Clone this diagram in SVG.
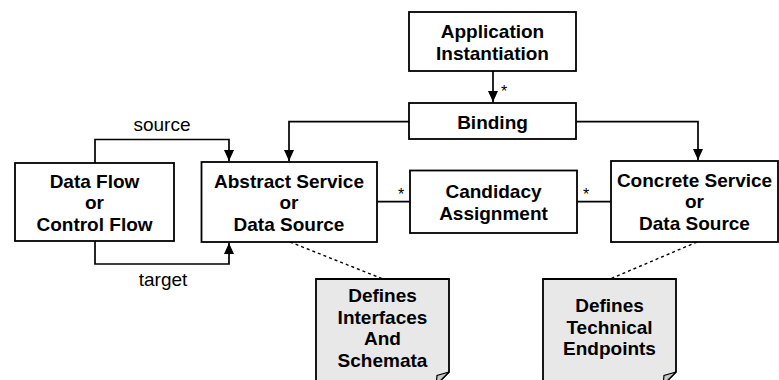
<svg xmlns="http://www.w3.org/2000/svg" width="779" height="380" viewBox="0 0 779 380">
<style>
.box{fill:#fff;stroke:#000;stroke-width:1.8}
.note{fill:#e8e8e8;stroke:#000;stroke-width:1.8}
.fold{fill:#c8c8c8;stroke:#000;stroke-width:1.2}
.t{font-family:"Liberation Sans",Arial,sans-serif;font-size:19px;font-weight:bold;text-anchor:middle;fill:#000}
.l{font-family:"Liberation Sans",Arial,sans-serif;font-size:19px;text-anchor:middle;fill:#000}
.s{font-family:"Liberation Sans",Arial,sans-serif;font-size:16px;text-anchor:middle;fill:#000}
.c{fill:none;stroke:#000;stroke-width:1.7}
.d{fill:none;stroke:#000;stroke-width:1.4;stroke-dasharray:3,3}
</style>
<defs>
<marker id="ah" markerUnits="userSpaceOnUse" markerWidth="12" markerHeight="10" refX="11" refY="5" orient="auto">
<path d="M0,0 L11,5 L0,10 Z" fill="#000"/>
</marker>
</defs>
<g id="connectors">
<path class="c" d="M493,71 V102" marker-end="url(#ah)"/>
<path class="c" d="M409,121.7 H289 V161" marker-end="url(#ah)"/>
<path class="c" d="M576,121.7 H698 V160" marker-end="url(#ah)"/>
<path class="c" d="M95,163 V139.5 H229 V161" marker-end="url(#ah)"/>
<path class="c" d="M95,241 V264 H229 V243" marker-end="url(#ah)"/>
<path class="c" d="M377,201.7 H410"/>
<path class="c" d="M577,201.7 H611"/>
<path class="d" d="M290,242 L383,279"/>
<path class="d" d="M697,242 L610,279"/>
<text class="s" x="504" y="97">*</text>
<text class="s" x="401" y="200">*</text>
<text class="s" x="586" y="200">*</text>
<text class="l" x="162" y="131">source</text>
<text class="l" x="163" y="286">target</text>
</g>
<g id="app">
<rect class="box" x="409" y="12" width="167" height="59"/>
<text class="t" x="492.5" y="38">Application</text>
<text class="t" x="492.5" y="59.5">Instantiation</text>
</g>
<g id="binding">
<rect class="box" x="409" y="103" width="167" height="36"/>
<text class="t" x="492.5" y="128.5">Binding</text>
</g>
<g id="dataflow">
<rect class="box" x="15" y="163" width="159" height="78"/>
<text class="t" x="94.5" y="187.5">Data Flow</text>
<text class="t" x="94.5" y="209">or</text>
<text class="t" x="94.5" y="230.5">Control Flow</text>
</g>
<g id="abstract">
<rect class="box" x="201.5" y="162" width="175.5" height="80"/>
<text class="t" x="289" y="187.5">Abstract Service</text>
<text class="t" x="289" y="209">or</text>
<text class="t" x="289" y="230.5">Data Source</text>
</g>
<g id="candidacy">
<rect class="box" x="410" y="170.5" width="167" height="62.5"/>
<text class="t" x="493.5" y="197.5">Candidacy</text>
<text class="t" x="493.5" y="219.5">Assignment</text>
</g>
<g id="concrete">
<rect class="box" x="611" y="161" width="167" height="81"/>
<text class="t" x="694.5" y="186.5">Concrete Service</text>
<text class="t" x="694.5" y="208">or</text>
<text class="t" x="694.5" y="229.5">Data Source</text>
</g>
<g id="note1">
<path class="note" d="M316,279 H449 V372 L436,385 H316 Z"/>
<path class="fold" d="M449,372 L437,375.5 L436,385 Z"/>
<text class="t" x="382.5" y="302">Defines</text>
<text class="t" x="382.5" y="323.5">Interfaces</text>
<text class="t" x="382.5" y="345">And</text>
<text class="t" x="382.5" y="366.5">Schemata</text>
</g>
<g id="note2">
<path class="note" d="M543,279 H676 V372 L663,385 H543 Z"/>
<path class="fold" d="M676,372 L664,375.5 L663,385 Z"/>
<text class="t" x="609.5" y="312">Defines</text>
<text class="t" x="609.5" y="333.5">Technical</text>
<text class="t" x="609.5" y="355">Endpoints</text>
</g>
</svg>
